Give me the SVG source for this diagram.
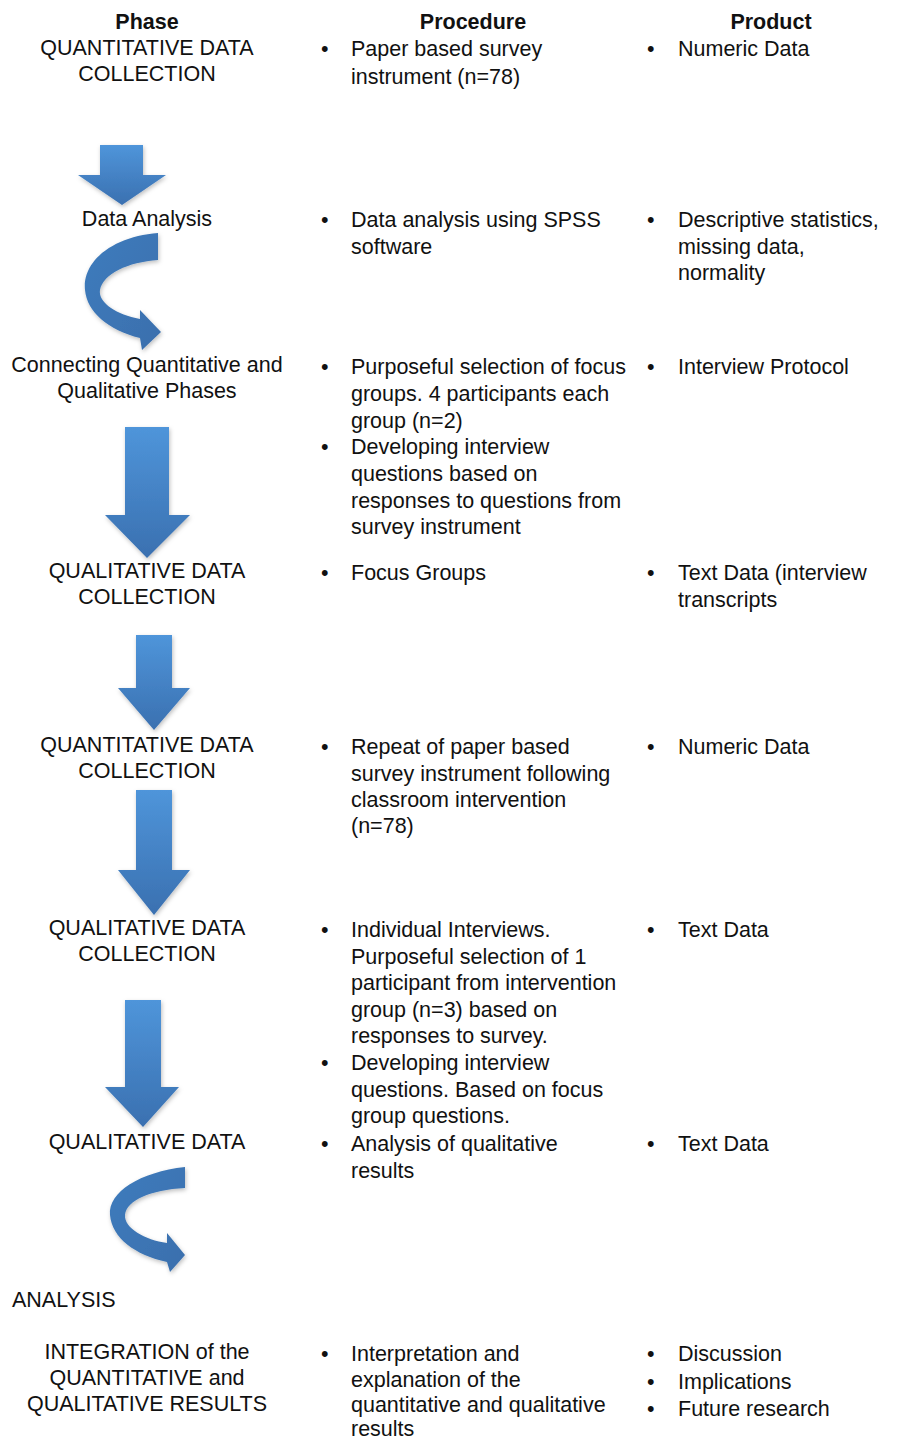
<svg xmlns="http://www.w3.org/2000/svg" width="902" height="1442" viewBox="0 0 902 1442">
<defs>
<linearGradient id="blue" x1="0" y1="0" x2="0" y2="1">
<stop offset="0" stop-color="#4f95da"/>
<stop offset="1" stop-color="#3a70b0"/>
</linearGradient>
<linearGradient id="blue2" x1="0" y1="0" x2="1" y2="1">
<stop offset="0" stop-color="#3f7cbd"/>
<stop offset="1" stop-color="#3a6fad"/>
</linearGradient>
<filter id="sh" x="-20%" y="-20%" width="140%" height="140%">
<feDropShadow dx="1" dy="2" stdDeviation="2" flood-color="#000" flood-opacity="0.25"/>
</filter>
</defs>
<style>
text{font-family:"Liberation Sans",Arial,sans-serif;font-size:21.5px;fill:#111}
.h{font-weight:bold}
.c{text-anchor:middle}
.arr{fill:url(#blue);filter:url(#sh)}
.carr{fill:url(#blue2);filter:url(#sh)}
</style>
<rect width="902" height="1442" fill="#fff"/>

<g id="connectors">
<path class="arr" d="M100,145 H143 V175 H166 L122,205 L78,175 H100 Z"/>
<path class="carr" d="M158,233 C115,236 82,260 85,290 C87,312 108,330 140,338 L142,350 L161,332 L140,310 L140,319 C115,314 98,302 100,290 C103,274 128,262 158,260 Z"/>
<path class="arr" d="M125,427 H169 V515 H190 L147,558 L105,515 H125 Z"/>
<path class="arr" d="M136,635 H172 V688 H190 L154,730 L118,688 H136 Z"/>
<path class="arr" d="M136,790 H172 V870 H190 L154,915 L118,870 H136 Z"/>
<path class="arr" d="M125,1000 H161 V1087 H179 L143,1127 L105,1087 H125 Z"/>
<path class="carr" d="M185,1167 C140,1172 108,1192 110,1215 C112,1238 135,1255 167,1262 L170,1272 L185,1255 L167,1233 L167,1243 C145,1240 124,1228 125,1215 C127,1200 150,1190 185,1188 Z"/>
</g>

<g id="header">
<text class="h c" x="147" y="29">Phase</text>
<text class="h c" x="473" y="29">Procedure</text>
<text class="h c" x="771" y="29">Product</text>
</g>

<g id="row1">
<text class="c" x="147" y="55">QUANTITATIVE DATA</text>
<text class="c" x="147" y="81">COLLECTION</text>
<text x="321" y="56">•</text>
<text x="351" y="56">Paper based survey</text>
<text x="351" y="84">instrument (n=78)</text>
<text x="647" y="56">•</text>
<text x="678" y="56">Numeric Data</text>
</g>

<g id="row2">
<text class="c" x="147" y="226">Data Analysis</text>
<text x="321" y="227">•</text>
<text x="351" y="227">Data analysis using SPSS</text>
<text x="351" y="254">software</text>
<text x="647" y="227">•</text>
<text x="678" y="227">Descriptive statistics,</text>
<text x="678" y="254">missing data,</text>
<text x="678" y="280">normality</text>
</g>

<g id="row3">
<text class="c" x="147" y="372">Connecting Quantitative and</text>
<text class="c" x="147" y="398">Qualitative Phases</text>
<text x="321" y="374">•</text>
<text x="351" y="374">Purposeful selection of focus</text>
<text x="351" y="401">groups. 4 participants each</text>
<text x="351" y="428">group (n=2)</text>
<text x="321" y="454">•</text>
<text x="351" y="454">Developing interview</text>
<text x="351" y="481">questions based on</text>
<text x="351" y="508">responses to questions from</text>
<text x="351" y="534">survey instrument</text>
<text x="647" y="374">•</text>
<text x="678" y="374">Interview Protocol</text>
</g>

<g id="row4">
<text class="c" x="147" y="578">QUALITATIVE DATA</text>
<text class="c" x="147" y="604">COLLECTION</text>
<text x="321" y="580">•</text>
<text x="351" y="580">Focus Groups</text>
<text x="647" y="580">•</text>
<text x="678" y="580">Text Data (interview</text>
<text x="678" y="607">transcripts</text>
</g>

<g id="row5">
<text class="c" x="147" y="752">QUANTITATIVE DATA</text>
<text class="c" x="147" y="778">COLLECTION</text>
<text x="321" y="754">•</text>
<text x="351" y="754">Repeat of paper based</text>
<text x="351" y="781">survey instrument following</text>
<text x="351" y="807">classroom intervention</text>
<text x="351" y="833">(n=78)</text>
<text x="647" y="754">•</text>
<text x="678" y="754">Numeric Data</text>
</g>

<g id="row6">
<text class="c" x="147" y="935">QUALITATIVE DATA</text>
<text class="c" x="147" y="961">COLLECTION</text>
<text x="321" y="937">•</text>
<text x="351" y="937">Individual Interviews.</text>
<text x="351" y="964">Purposeful selection of 1</text>
<text x="351" y="990">participant from intervention</text>
<text x="351" y="1017">group (n=3) based on</text>
<text x="351" y="1043">responses to survey.</text>
<text x="321" y="1070">•</text>
<text x="351" y="1070">Developing interview</text>
<text x="351" y="1097">questions. Based on focus</text>
<text x="351" y="1123">group questions.</text>
<text x="647" y="937">•</text>
<text x="678" y="937">Text Data</text>
</g>

<g id="row7">
<text class="c" x="147" y="1149">QUALITATIVE DATA</text>
<text x="321" y="1151">•</text>
<text x="351" y="1151">Analysis of qualitative</text>
<text x="351" y="1178">results</text>
<text x="647" y="1151">•</text>
<text x="678" y="1151">Text Data</text>
<text x="12" y="1307">ANALYSIS</text>
</g>

<g id="row8">
<text class="c" x="147" y="1359">INTEGRATION of the</text>
<text class="c" x="147" y="1385">QUANTITATIVE and</text>
<text class="c" x="147" y="1411">QUALITATIVE RESULTS</text>
<text x="321" y="1361">•</text>
<text x="351" y="1361">Interpretation and</text>
<text x="351" y="1387">explanation of the</text>
<text x="351" y="1412">quantitative and qualitative</text>
<text x="351" y="1436">results</text>
<text x="647" y="1361">•</text>
<text x="678" y="1361">Discussion</text>
<text x="647" y="1389">•</text>
<text x="678" y="1389">Implications</text>
<text x="647" y="1416">•</text>
<text x="678" y="1416">Future research</text>
</g>
</svg>
